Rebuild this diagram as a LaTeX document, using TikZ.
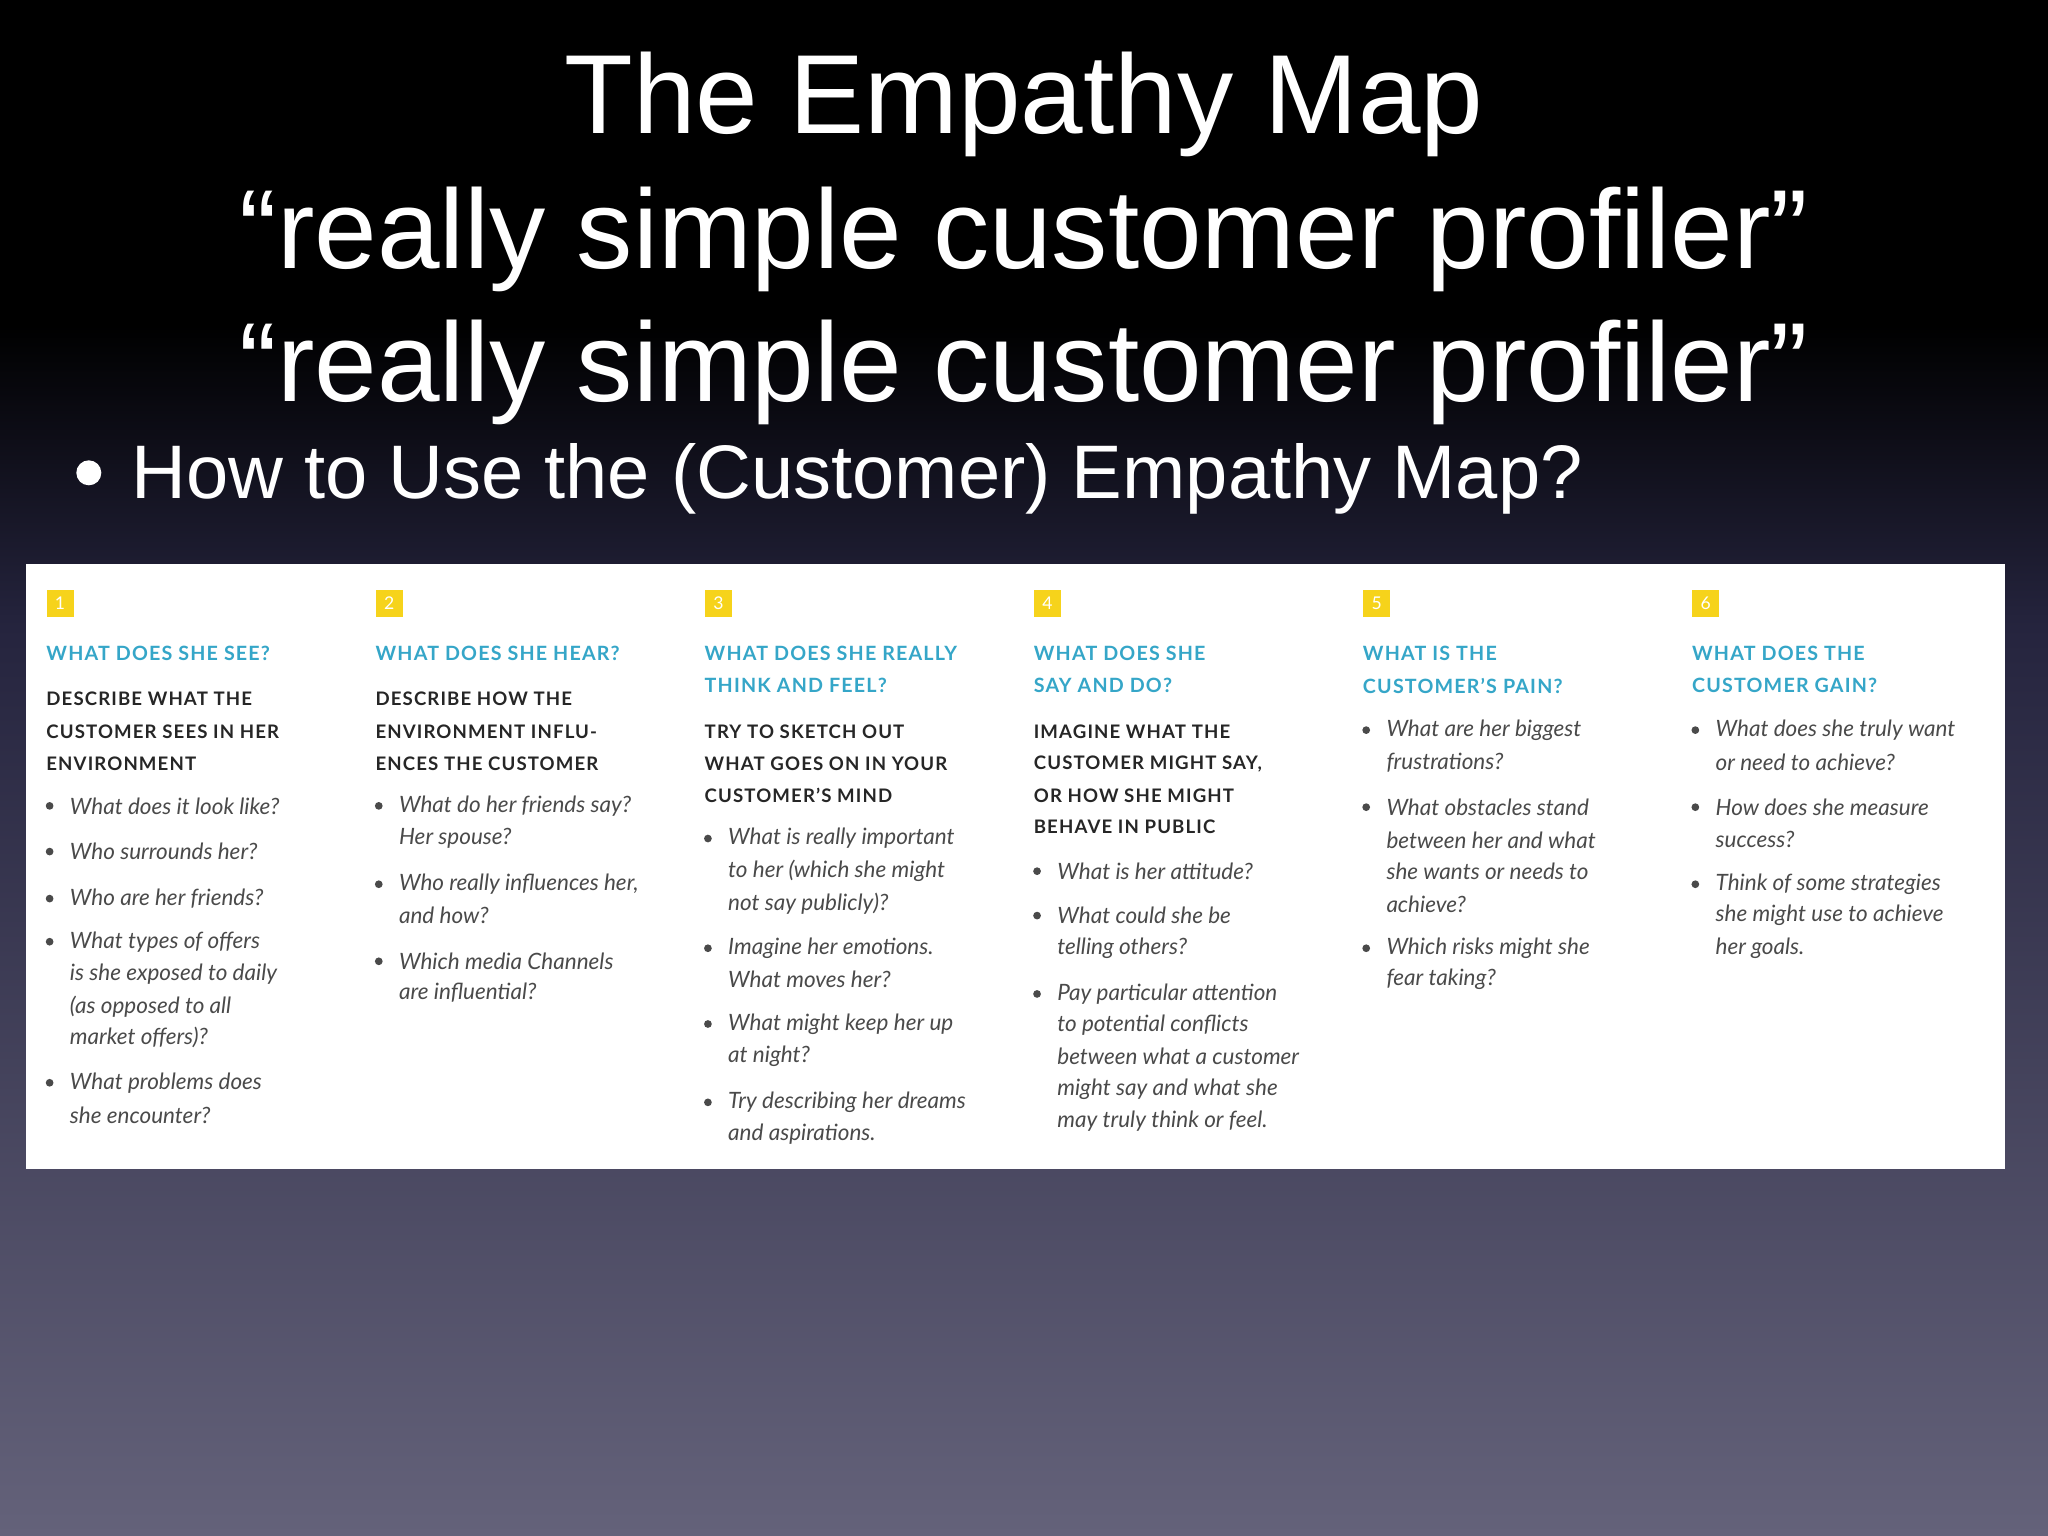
\documentclass[tikz,border=0pt]{standalone}
\usepackage{fontspec}
\setmainfont{Liberation Sans}
\newfontfamily\lato{Lato}
\newfontfamily\latohd[LetterSpace=6]{Lato Bold}
\definecolor{hdcyan}{HTML}{35A6C8}
\definecolor{numyel}{HTML}{F6D31B}
\definecolor{bodyg}{HTML}{4A4A4A}
\definecolor{bgbot}{HTML}{64627A}
\definecolor{bgmid}{HTML}{25243E}
\tikzset{
 ttl/.style={text=white,font=\fontsize{32}{36}\selectfont,anchor=center,inner sep=0},
 hd/.style={anchor=west,inner sep=0,text=hdcyan,font=\latohd\fontsize{5.6}{6}\selectfont},
 bd/.style={anchor=west,inner sep=0,text=black!85,font=\latohd\fontsize{5.3}{6}\selectfont},
 it/.style={anchor=west,inner sep=0,text=bodyg,font=\lato\itshape\fontsize{6.4}{7}\selectfont},
 bul/.style={circle,fill=bodyg,inner sep=0,minimum size=2.2pt},
 nb/.style={fill=numyel,minimum size=0.27cm,inner sep=0,text=white,font=\lato\fontsize{5}{6}\selectfont}
}
\newcommand{\itm}[3]{\node[bul] at (#1+3,#2) {}; \node[it] at (#1+18,#2) {#3};}
\newcommand{\itc}[3]{\node[it] at (#1+18,#2) {#3};}
\begin{document}
\begin{tikzpicture}[x=0.013061cm,y=-0.013061cm]
\fill[black] (0,0) rectangle (1568,250);
\shade[top color=black,bottom color=bgmid] (0,249) rectangle (1568,480);
\shade[top color=bgmid,bottom color=bgbot] (0,479) rectangle (1568,1176);
\useasboundingbox (0,0) rectangle (1568,1176);
\node[ttl] (t1) at (784,80) {The Empathy Map};
\node[ttl] (t2) at (784,183) {“really simple customer profiler”};
\node[ttl] (t3) at (784,285) {“really simple customer profiler”};
\node[circle,fill=white,inner sep=0,minimum size=0.25cm] (bb) at (68,362) {};
\node[anchor=west,inner sep=0,text=white,font=\fontsize{21.6}{24}\selectfont] (bt) at (100,367) {How to Use the (Customer) Empathy Map?};
\fill[white] (20,432) rectangle (1535,895);
% column 1
\node[nb] (n1) at (46,462) {1};
\node[hd] at (35,500) {WHAT DOES SHE SEE?};
\node[bd] at (35,535) {DESCRIBE WHAT THE};
\node[bd] at (35,560) {CUSTOMER SEES IN HER};
\node[bd] at (35,585) {ENVIRONMENT};
\itm{35}{617}{What does it look like?}
\itm{35}{652}{Who surrounds her?}
\itm{35}{688}{Who are her friends?}
\itm{35}{721}{What types of offers}
\itc{35}{746}{is she exposed to daily}
\itc{35}{771}{(as opposed to all}
\itc{35}{794}{market offers)?}
\itm{35}{829}{What problems does}
\itc{35}{854}{she encounter?}
% column 2
\node[nb] (n2) at (298,462) {2};
\node[hd] at (287,500) {WHAT DOES SHE HEAR?};
\node[bd] at (287,535) {DESCRIBE HOW THE};
\node[bd] at (287,560) {ENVIRONMENT INFLU-};
\node[bd] at (287,585) {ENCES THE CUSTOMER};
\itm{287}{617}{What do her friends say?}
\itc{287}{642}{Her spouse?}
\itm{287}{677}{Who really influences her,}
\itc{287}{701}{and how?}
\itm{287}{736}{Which media Channels}
\itc{287}{760}{are influential?}
% column 3
\node[nb] (n3) at (550,462) {3};
\node[hd] at (539,500) {WHAT DOES SHE REALLY};
\node[hd] at (539,525) {THINK AND FEEL?};
\node[bd] at (539,560) {TRY TO SKETCH OUT};
\node[bd] at (539,585) {WHAT GOES ON IN YOUR};
\node[bd] at (539,609) {CUSTOMER’S MIND};
\itm{539}{642}{What is really important}
\itc{539}{667}{to her (which she might}
\itc{539}{692}{not say publicly)?}
\itm{539}{726}{Imagine her emotions.}
\itc{539}{750}{What moves her?}
\itm{539}{784}{What might keep her up}
\itc{539}{809}{at night?}
\itm{539}{844}{Try describing her dreams}
\itc{539}{868}{and aspirations.}
% column 4
\node[nb] (n4) at (802,462) {4};
\node[hd] at (791,500) {WHAT DOES SHE};
\node[hd] at (791,525) {SAY AND DO?};
\node[bd] at (791,560) {IMAGINE WHAT THE};
\node[bd] at (791,585) {CUSTOMER MIGHT SAY,};
\node[bd] at (791,609) {OR HOW SHE MIGHT};
\node[bd] at (791,633) {BEHAVE IN PUBLIC};
\itm{791}{667}{What is her attitude?}
\itm{791}{701}{What could she be}
\itc{791}{726}{telling others?}
\itm{791}{761}{Pay particular attention}
\itc{791}{785}{to potential conflicts}
\itc{791}{809}{between what a customer}
\itc{791}{834}{might say and what she}
\itc{791}{858}{may truly think or feel.}
% column 5
\node[nb] (n5) at (1054,462) {5};
\node[hd] at (1043,500) {WHAT IS THE};
\node[hd] at (1043,525) {CUSTOMER’S PAIN?};
\itm{1043}{559}{What are her biggest}
\itc{1043}{584}{frustrations?}
\itm{1043}{618}{What obstacles stand}
\itc{1043}{643}{between her and what}
\itc{1043}{667}{she wants or needs to}
\itc{1043}{692}{achieve?}
\itm{1043}{726}{Which risks might she}
\itc{1043}{750}{fear taking?}
% column 6
\node[nb] (n6) at (1306,462) {6};
\node[hd] at (1295,500) {WHAT DOES THE};
\node[hd] at (1295,525) {CUSTOMER GAIN?};
\itm{1295}{559}{What does she truly want}
\itc{1295}{584}{or need to achieve?}
\itm{1295}{618}{How does she measure}
\itc{1295}{643}{success?}
\itm{1295}{677}{Think of some strategies}
\itc{1295}{701}{she might use to achieve}
\itc{1295}{726}{her goals.}
\end{tikzpicture}
\end{document}
